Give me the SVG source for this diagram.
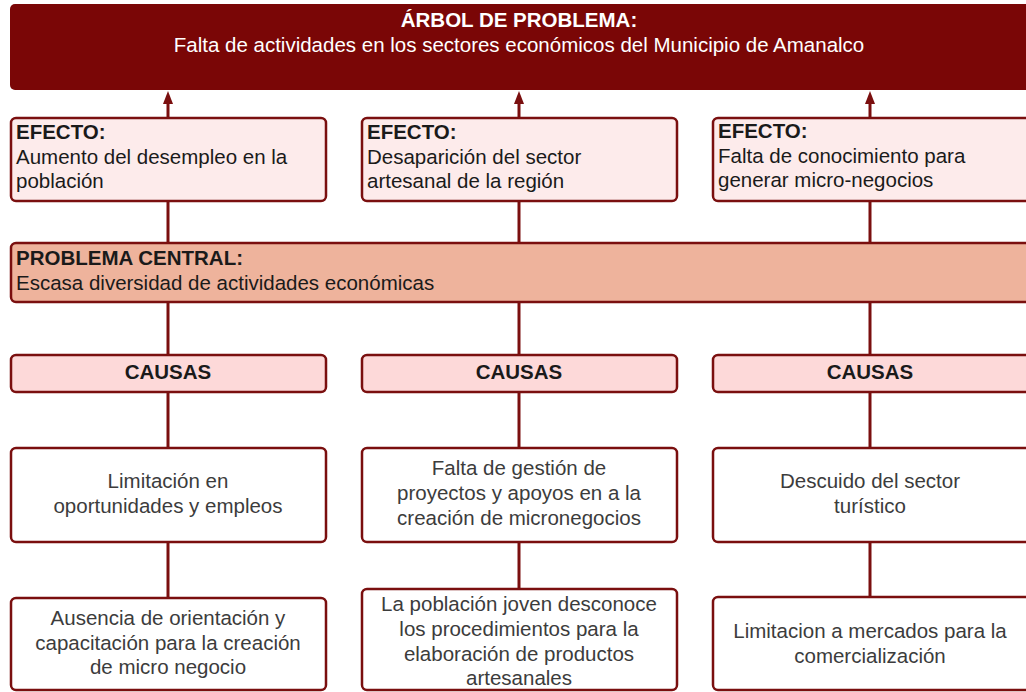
<svg xmlns="http://www.w3.org/2000/svg" width="1026" height="692" viewBox="0 0 1026 692">
<style>
text{font-family:"Liberation Sans",Arial,sans-serif;font-size:20.5px}
.b{font-weight:bold}
.box{stroke:#7a0f0f;stroke-width:2.5}
.ef{fill:#fdebeb}
.ca{fill:#fdd9d9}
.wh{fill:#ffffff}
.dk{fill:#1a1a1a}
.gr{fill:#3c3c3c}
.c{text-anchor:middle}
.ln{stroke:#7a0f0f;stroke-width:3;fill:none}
</style>
<g id="connectors">
<line class="ln" x1="168" y1="118" x2="168" y2="103"/>
<line class="ln" x1="519" y1="118" x2="519" y2="103"/>
<line class="ln" x1="870" y1="118" x2="870" y2="103"/>
<path d="M168 91 L173 104 L163 104 Z" fill="#7a0f0f"/>
<path d="M519 91 L524 104 L514 104 Z" fill="#7a0f0f"/>
<path d="M870 91 L875 104 L865 104 Z" fill="#7a0f0f"/>
<line class="ln" x1="168" y1="201" x2="168" y2="243"/>
<line class="ln" x1="519" y1="201" x2="519" y2="243"/>
<line class="ln" x1="870" y1="201" x2="870" y2="243"/>
<line class="ln" x1="168" y1="302" x2="168" y2="355"/>
<line class="ln" x1="519" y1="302" x2="519" y2="355"/>
<line class="ln" x1="870" y1="302" x2="870" y2="355"/>
<line class="ln" x1="168" y1="392" x2="168" y2="448"/>
<line class="ln" x1="519" y1="392" x2="519" y2="448"/>
<line class="ln" x1="870" y1="392" x2="870" y2="448"/>
<line class="ln" x1="168" y1="542" x2="168" y2="598"/>
<line class="ln" x1="519" y1="542" x2="519" y2="589"/>
<line class="ln" x1="870" y1="542" x2="870" y2="597"/>
</g>
<g id="title">
<rect x="10" y="4" width="1030" height="86" rx="5" fill="#7a0606"/>
<text x="519" y="27" class="b c" fill="#ffffff">ÁRBOL DE PROBLEMA:</text>
<text x="519" y="52" class="c" fill="#ffffff">Falta de actividades en los sectores económicos del Municipio de Amanalco</text>
</g>
<g id="efecto1">
<rect class="box ef" x="11" y="118" width="315" height="83" rx="5"/>
<text x="16" y="139" class="b dk">EFECTO:</text>
<text x="16" y="164" class="dk">Aumento del desempleo en la</text>
<text x="16" y="188" class="dk">población</text>
</g>
<g id="efecto2">
<rect class="box ef" x="362" y="118" width="315" height="83" rx="5"/>
<text x="367" y="139" class="b dk">EFECTO:</text>
<text x="367" y="164" class="dk">Desaparición del sector</text>
<text x="367" y="188" class="dk">artesanal de la región</text>
</g>
<g id="efecto3">
<rect class="box ef" x="713" y="118" width="330" height="83" rx="5"/>
<text x="718" y="138" class="b dk">EFECTO:</text>
<text x="718" y="163" class="dk">Falta de conocimiento para</text>
<text x="718" y="187" class="dk">generar micro-negocios</text>
</g>
<g id="central">
<rect class="box" x="11" y="243" width="1030" height="59" rx="5" fill="#eeb39c"/>
<text x="16" y="265" class="b dk">PROBLEMA CENTRAL:</text>
<text x="16" y="290" class="dk">Escasa diversidad de actividades económicas</text>
</g>
<g id="causas1">
<rect class="box ca" x="11" y="355" width="315" height="37" rx="5"/>
<text x="168" y="379" class="b c dk">CAUSAS</text>
</g>
<g id="causas2">
<rect class="box ca" x="362" y="355" width="315" height="37" rx="5"/>
<text x="519" y="379" class="b c dk">CAUSAS</text>
</g>
<g id="causas3">
<rect class="box ca" x="713" y="355" width="330" height="37" rx="5"/>
<text x="870" y="379" class="b c dk">CAUSAS</text>
</g>
<g id="causa1a">
<rect class="box wh" x="11" y="448" width="315" height="94" rx="5"/>
<text x="168" y="488" class="c gr">Limitación en</text>
<text x="168" y="513" class="c gr">oportunidades y empleos</text>
</g>
<g id="causa2a">
<rect class="box wh" x="362" y="448" width="315" height="94" rx="5"/>
<text x="519" y="475" class="c gr">Falta de gestión de</text>
<text x="519" y="500" class="c gr">proyectos y apoyos en a la</text>
<text x="519" y="525" class="c gr">creación de micronegocios</text>
</g>
<g id="causa3a">
<rect class="box wh" x="713" y="448" width="330" height="94" rx="5"/>
<text x="870" y="488" class="c gr">Descuido del sector</text>
<text x="870" y="513" class="c gr">turístico</text>
</g>
<g id="causa1b">
<rect class="box wh" x="11" y="598" width="315" height="92" rx="5"/>
<text x="168" y="625" class="c gr">Ausencia de orientación y</text>
<text x="168" y="650" class="c gr">capacitación para la creación</text>
<text x="168" y="674" class="c gr">de micro negocio</text>
</g>
<g id="causa2b">
<rect class="box wh" x="362" y="589" width="315" height="101" rx="5"/>
<text x="519" y="611" class="c gr">La población joven desconoce</text>
<text x="519" y="636" class="c gr">los procedimientos para la</text>
<text x="519" y="661" class="c gr">elaboración de productos</text>
<text x="519" y="685" class="c gr">artesanales</text>
</g>
<g id="causa3b">
<rect class="box wh" x="713" y="597" width="330" height="93" rx="5"/>
<text x="870" y="638" class="c gr">Limitacion a mercados para la</text>
<text x="870" y="663" class="c gr">comercialización</text>
</g>
</svg>
